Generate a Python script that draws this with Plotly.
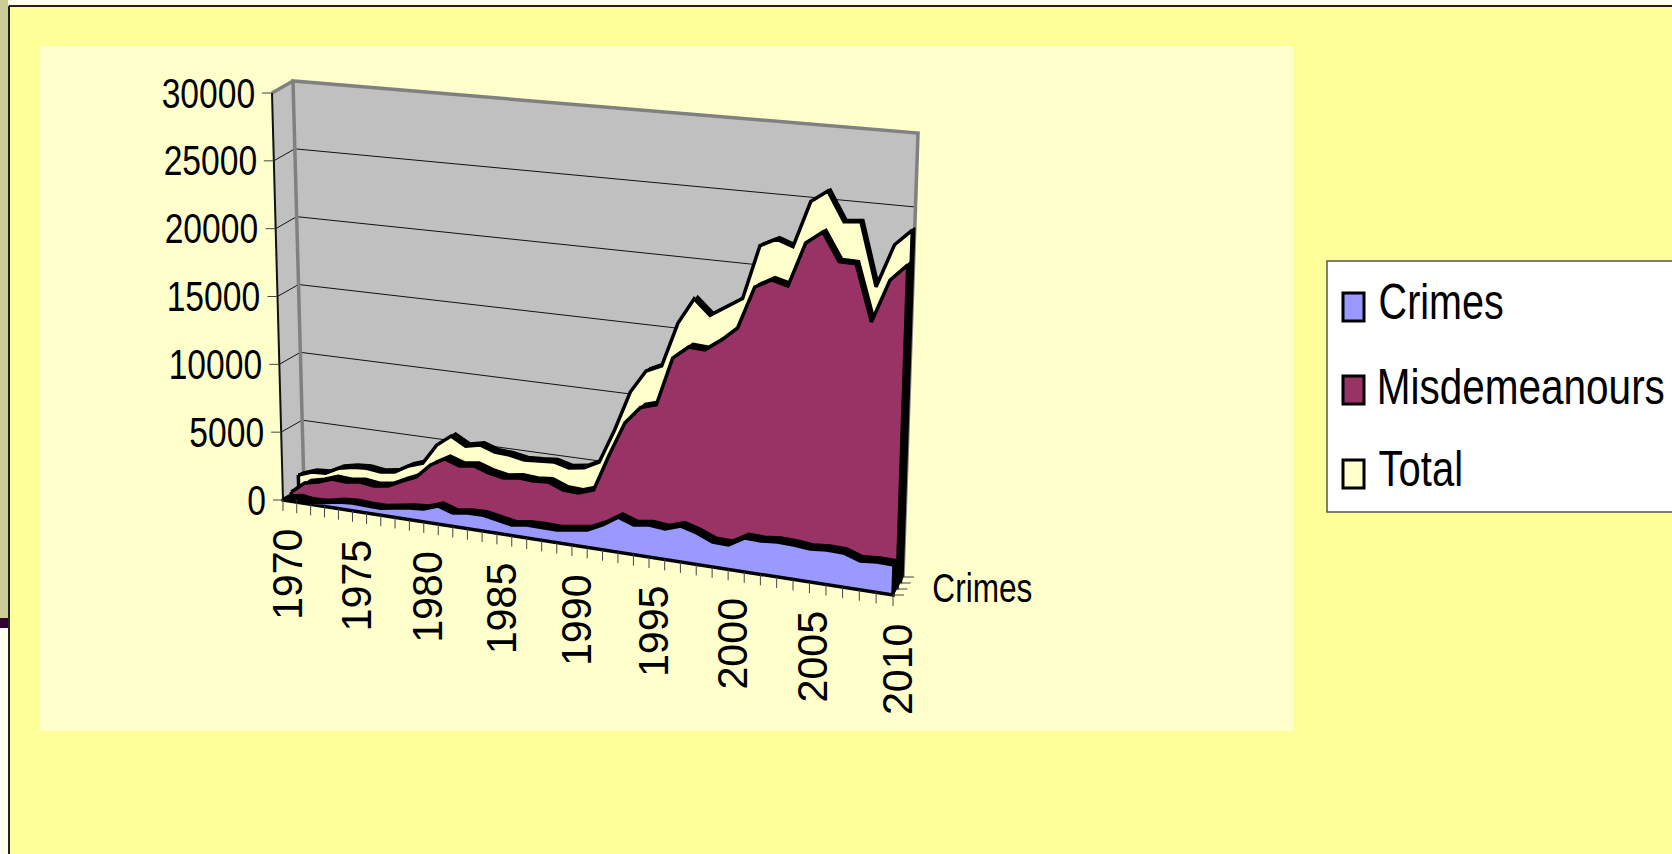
import json
import plotly.graph_objects as go

years = list(range(1970, 2011))
crimes = [100, 300, 100, 260, 480, 570, 510, 500, 685, 840, 930, 1300, 960, 1120, 1140, 940, 750, 910, 930, 890, 1050,
          1210, 1720, 2420, 2040, 2200, 2090, 2450, 2140, 1690, 1660, 2290, 2250, 2350, 2310, 2210, 2310, 2270, 1910, 2000, 1980]
misdemeanours = [240, 1050, 1280, 1650, 1580, 1730, 1590, 1740, 2250, 2700, 3710, 4290, 3940, 4085, 3730, 3530, 3690, 3610, 3700, 3290, 3230,
                 3600, 6190, 8560, 9790, 10110, 13470, 14370, 14290, 15080, 16050, 18960, 19570, 19270, 22300, 23150, 21270, 21240, 17450, 20360, 21500]
total = [1180, 1540, 1610, 2120, 2340, 2410, 2280, 2430, 3020, 3370, 4820, 5610, 5020, 5250, 4890, 4820, 4620, 4680, 4770, 4490, 4650,
         5200, 7600, 10400, 12000, 12500, 15600, 17400, 16380, 17080, 17780, 21540, 22090, 21690, 24880, 25700, 23720, 23830, 19550, 22500, 23600]
value_ticks = [0, 5000, 10000, 15000, 20000, 25000, 30000]
year_labels = [1970, 1975, 1980, 1985, 1990, 1995, 2000, 2005, 2010]
series_names = ["Crimes", "Misdemeanours", "Total"]
depth_label = "Crimes"

VMAX = 30000.0
FONT = "Liberation Sans"


def persp(year):
    t = (year - 1970) / 40.0
    return 0.9 * t / (1 - 0.1 * t)


def project(year, value, depth):
    """3-D chart space (year, value, depth 0 front..1 back) to page pixels."""
    s = persp(year)
    v = value / VMAX
    xb = (283 + 610 * s) * (1 - depth) + (304 + 599 * s) * depth
    xt = (272 + 636 * s) * (1 - depth) + (293 + 625 * s) * depth
    yb = (500 + 95 * s) * (1 - depth) + (488 + 89 * s) * depth
    yt = (93 + 47 * s) * (1 - depth) + (81 + 52 * s) * depth
    return xb + (xt - xb) * v, yb + (yt - yb) * v


def poly(points, fill=None, line=None, width=0, name=None):
    xs = [p[0] for p in points]
    ys = [p[1] for p in points]
    return go.Scatter(
        x=xs, y=ys, mode="lines", name=name, showlegend=False, hoverinfo="skip",
        fill="toself" if fill else "none", fillcolor=fill,
        line=dict(color=line or "rgba(0,0,0,0)", width=width, shape="linear"),
    )


fig = go.Figure()
Y0, Y1 = years[0], years[-1]

# walls and floor
fig.add_trace(poly([project(Y0, 0, 0), project(Y1, 0, 0), project(Y1, 0, 1), project(Y0, 0, 1), project(Y0, 0, 0)], fill="#C0C0C0"))
fig.add_trace(poly([project(Y0, 0, 0), project(Y0, 0, 1), project(Y0, VMAX, 1), project(Y0, VMAX, 0), project(Y0, 0, 0)], fill="#C0C0C0"))
fig.add_trace(poly([project(Y0, 0, 1), project(Y1, 0, 1), project(Y1, VMAX, 1), project(Y0, VMAX, 1), project(Y0, 0, 1)], fill="#C0C0C0"))

# gridlines
for v in value_ticks[1:-1]:
    fig.add_trace(poly([project(Y0, v, 0), project(Y0, v, 1), project(Y1, v, 1)], line="#111111", width=1))

# wall edges
fig.add_trace(poly([project(Y0, 0, 1), project(Y0, VMAX, 1), project(Y1, VMAX, 1), project(Y1, 0, 1)], line="#808080", width=3.5))
fig.add_trace(poly([project(Y0, VMAX, 0), project(Y0, VMAX, 1)], line="#808080", width=3.5))
fig.add_trace(poly([project(Y0, 0, 0), project(Y0, VMAX, 0)], line="#111111", width=2))
fig.add_trace(poly([project(Y0, 0, 0), project(Y0, 0, 1)], line="#111111", width=2))

# areas, drawn back to front: (values, front depth, back depth, colour, name)
layers = [
    (total, 0.75, 1.0, "#FFFFCC", series_names[2]),
    (misdemeanours, 0.40, 0.70, "#993366", series_names[1]),
    (crimes, 0.0, 0.30, "#9999FF", series_names[0]),
]
for vals, df, db, color, name in layers:
    # top surface
    top_front = [project(y, v, df) for y, v in zip(years, vals)]
    top_back = [project(y, v, db) for y, v in zip(years, vals)]
    fig.add_trace(poly(top_front + top_back[::-1] + top_front[:1], fill="#000000", line="#000000", width=1.5))
    # right-hand end cap
    end = vals[-1]
    fig.add_trace(poly([project(Y1, 0, df), project(Y1, end, df), project(Y1, end, db), project(Y1, 0, db), project(Y1, 0, df)],
                       fill="#000000", line="#000000", width=1.5))
    # left-hand end cap
    start = vals[0]
    fig.add_trace(poly([project(Y0, 0, df), project(Y0, start, df), project(Y0, start, db), project(Y0, 0, db), project(Y0, 0, df)],
                       fill="#000000", line="#000000", width=1))
    # front face
    face = top_front + [project(Y1, 0, df), project(Y0, 0, df)] + top_front[:1]
    fig.add_trace(poly(face, fill=color, line="#000000", width=3.5, name=name))

# year ticks
for y in years:
    bx, by = project(y, 0, 0)
    fig.add_trace(poly([(bx, by), (bx, by + 11)], line="#444444", width=1))


def text_width(em, size, squeeze):
    return em * size * squeeze


ann = []
squeezes = []

# value ticks and labels
for v in value_ticks:
    fx, fy = project(Y0, v, 0)
    fig.add_trace(poly([(fx - 10, fy), (fx, fy)], line="#444444", width=1))
    w = text_width(len(str(v)) * 0.556, 42, 0.80)
    ann.append(dict(x=fx - 17 - w / 2, y=fy, text=str(v), xanchor="center", yanchor="middle", font=dict(size=42)))
    squeezes.append(0.80)

# depth ticks
for d in (0, 1 / 3, 2 / 3, 1):
    fx, fy = project(Y1, 0, d)
    fig.add_trace(poly([(fx, fy), (fx + 11, fy)], line="#444444", width=1))
rx, ry = project(Y1, 0, 0.5)
ann.append(dict(x=rx + 84, y=ry + 2, text=depth_label, xanchor="center", yanchor="middle", font=dict(size=40)))
squeezes.append(0.79)

for y in year_labels:
    bx, by = project(y, 0, 0)
    ann.append(dict(x=bx + 4, y=by + 75, text=str(y), textangle=-90, xanchor="center", yanchor="middle", font=dict(size=42)))
    squeezes.append(0.98)

# frame and legend
shapes = [
    dict(type="rect", x0=0, x1=8, y0=0, y1=618, fillcolor="#CCCC99", line_width=0, layer="below"),
    dict(type="rect", x0=0, x1=8, y0=618, y1=628, fillcolor="#330033", line_width=0, layer="below"),
    dict(type="rect", x0=0, x1=8, y0=628, y1=854, fillcolor="#FFFFEE", line_width=0, layer="below"),
    dict(type="rect", x0=8, x1=1672, y0=0, y1=5, fillcolor="#FFFFEE", line_width=0, layer="below"),
    dict(type="line", x0=9, x1=9, y0=6, y1=854, line=dict(color="#222222", width=2), layer="below"),
    dict(type="line", x0=9, x1=1672, y0=6, y1=6, line=dict(color="#222222", width=2), layer="below"),
    dict(type="rect", x0=40, x1=1293, y0=46, y1=731, fillcolor="#FFFFCC", line_width=0, layer="below"),
    dict(type="rect", x0=1327, x1=1690, y0=261, y1=512, fillcolor="#FFFFFF", line=dict(color="#555555", width=1.5), layer="below"),
]
legend_colors = ["#9999FF", "#993366", "#FFFFCC"]
legend_top = [293, 376, 460]
legend_centers = [1441, 1521, 1421]
legend_text_y = [302, 387, 469]
legend_squeeze = [0.79, 0.81, 0.80]
for name, col, top, cx, ty, k in zip(series_names, legend_colors, legend_top, legend_centers, legend_text_y, legend_squeeze):
    shapes.append(dict(type="rect", x0=1343, x1=1364, y0=top, y1=top + 28, fillcolor=col, line=dict(color="#000000", width=3), layer="above"))
    ann.append(dict(x=cx, y=ty, text=name, xanchor="center", yanchor="middle", font=dict(size=50)))
    squeezes.append(k)

for a in ann:
    a.update(xref="x", yref="y", showarrow=False)
    a["font"].update(family=FONT, color="#000000")

fig.update_layout(
    width=1672, height=854, autosize=False,
    margin=dict(l=0, r=0, t=0, b=0),
    paper_bgcolor="#FFFF99", plot_bgcolor="#FFFF99",
    xaxis=dict(range=[0, 1672], visible=False, fixedrange=True),
    yaxis=dict(range=[854, 0], visible=False, fixedrange=True),
    shapes=shapes, annotations=ann, showlegend=False,
)

post = """
document.body.style.margin='0';document.body.style.overflow='hidden';
var sq=%s;
function squeezeText(){
  document.querySelectorAll('.annotation-text').forEach(function(el,i){
    var cx=parseFloat(el.getAttribute('x'))||0;
    el.setAttribute('transform','translate('+cx+',0) scale('+sq[i]+',1) translate('+(-cx)+',0)');
  });
}
squeezeText();setTimeout(squeezeText,100);
""" % json.dumps(squeezes)
fig.write_html("out.html", config={"displayModeBar": False}, post_script=post)
